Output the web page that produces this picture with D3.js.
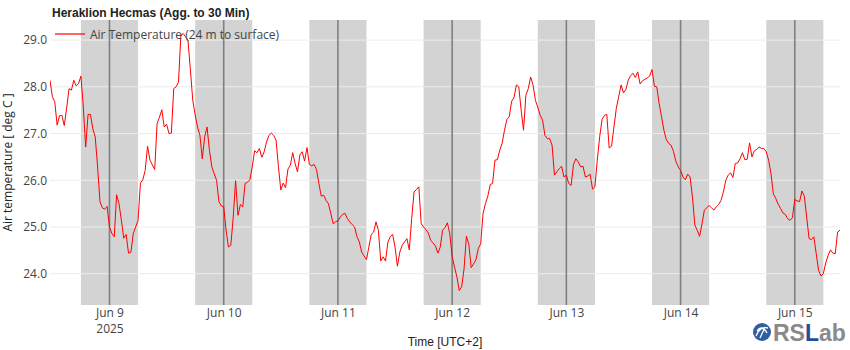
<!DOCTYPE html>
<html>
<head>
<meta charset="utf-8">
<script src="https://cdn.jsdelivr.net/npm/d3@7"></script>
<style>
  html, body { margin: 0; padding: 0; background: #fff; }
  svg { display: block; }
</style>
</head>
<body>
<svg id="chart" width="850" height="350"></svg>
<script>
// ---------------- DATA ----------------
const chartTitle = "Heraklion Hecmas (Agg. to 30 Min)";
const seriesName = "Air Temperature (24 m to surface)";
const yAxisTitle = "Air temperature [ deg C ]";
const xAxisTitle = "Time [UTC+2]";
const startTime = "2025-06-08T11:30";   // first sample (local UTC+2)
const stepMinutes = 30;                 // aggregation step
const yTicks = [24, 25, 26, 27, 28, 29];
const nightStartHour = 18;
const nightEndHour = 6;
const temps = [
  // Jun 8 11:30 - 23:30
  28.14, 27.79, 27.68, 27.18, 27.38, 27.39, 27.17, 27.55, 27.96, 27.93, 28.14, 28.02, 28.07,
  28.23, 27.57, 26.71, 27.41, 27.41, 27.10, 26.93, 26.29, 25.54, 25.41, 25.38, 25.44,
  // Jun 9
  25.00, 24.86, 24.79, 25.69, 25.50, 25.14, 24.76, 24.84, 24.44, 24.46, 24.86, 25.00,
  25.14, 25.94, 26.01, 26.21, 26.73, 26.43, 26.33, 26.23, 27.21, 27.35, 27.51, 27.14,
  27.20, 27.00, 27.01, 27.96, 28.00, 28.10, 29.10, 29.14, 29.07, 28.99, 28.36, 27.71,
  27.40, 27.14, 26.96, 26.46, 26.93, 27.14, 26.64, 26.29, 26.14, 26.00, 25.54, 25.45,
  // Jun 10
  25.43, 24.93, 24.57, 24.61, 25.21, 25.99, 25.25, 25.48, 25.43, 25.93, 25.96, 26.01,
  26.29, 26.63, 26.59, 26.68, 26.49, 26.61, 26.82, 26.96, 27.01, 26.96, 26.86, 26.29,
  25.79, 25.94, 25.84, 26.24, 26.32, 26.59, 26.36, 26.18, 26.54, 26.61, 26.41, 26.70,
  26.34, 26.31, 26.34, 26.23, 25.93, 25.66, 25.68, 25.57, 25.50, 25.29, 25.07, 25.11,
  // Jun 11
  25.13, 25.21, 25.27, 25.29, 25.18, 25.11, 25.05, 25.00, 24.79, 24.68, 24.46, 24.38,
  24.30, 24.57, 24.84, 24.89, 25.11, 24.93, 24.27, 24.36, 24.27, 24.68, 24.79, 24.84,
  24.57, 24.16, 24.46, 24.61, 24.68, 24.75, 24.51, 25.18, 25.75, 25.80, 25.86, 25.07,
  25.00, 24.94, 24.87, 24.71, 24.66, 24.59, 24.44, 24.57, 24.93, 24.99, 25.09, 24.86,
  // Jun 12
  24.37, 24.14, 23.93, 23.64, 23.72, 24.10, 24.80, 24.64, 24.13, 24.21, 24.30, 24.54,
  24.64, 25.29, 25.50, 25.66, 25.91, 25.93, 26.43, 26.44, 26.64, 26.79, 27.07, 27.30,
  27.36, 27.69, 27.77, 28.04, 28.00, 27.50, 27.07, 27.82, 27.96, 28.21, 28.04, 27.71,
  27.56, 27.39, 27.29, 26.96, 26.89, 26.89, 26.75, 26.11, 26.18, 26.25, 26.30, 26.07,
  // Jun 13
  26.11, 25.93, 25.89, 26.34, 26.46, 26.39, 26.29, 26.30, 26.07, 26.09, 26.13, 25.81,
  25.86, 26.43, 26.93, 27.30, 27.39, 27.41, 26.69, 26.73, 27.14, 27.54, 27.79, 28.04,
  27.87, 27.94, 28.14, 28.24, 28.29, 28.20, 28.32, 28.06, 28.13, 28.16, 28.19, 28.23,
  28.37, 28.01, 28.00, 27.64, 27.36, 27.07, 26.87, 26.79, 26.75, 26.62, 26.41, 26.29,
  // Jun 14
  26.21, 26.07, 26.01, 26.13, 26.07, 25.64, 25.04, 24.93, 24.80, 25.07, 25.36, 25.41,
  25.46, 25.41, 25.36, 25.43, 25.48, 25.57, 25.75, 26.00, 26.11, 26.16, 26.06, 26.36,
  26.37, 26.46, 26.59, 26.44, 26.45, 26.80, 26.50, 26.63, 26.66, 26.71, 26.68, 26.68,
  26.61, 26.43, 26.14, 25.71, 25.61, 25.49, 25.40, 25.30, 25.27, 25.18, 25.14, 25.20,
  // Jun 15 00:00 - 09:30
  25.59, 25.56, 25.54, 25.77, 25.66, 25.21, 24.75, 24.73, 24.79, 24.43, 24.07, 23.95,
  24.00, 24.23, 24.39, 24.51, 24.44, 24.43, 24.89, 24.93
];

// ---------------- SETUP ----------------
const W = 850, H = 350;
const margin = { left: 50, right: 10, top: 20, bottom: 45 };
const plotL = margin.left, plotR = W - margin.right;
const plotT = margin.top, plotB = H - margin.bottom;

const parse = d3.utcParse("%Y-%m-%dT%H:%M");
const t0 = parse(startTime);
const data = temps.map((v, i) => ({ t: new Date(t0.getTime() + i * stepMinutes * 60000), v }));

const x = d3.scaleUtc()
  .domain(d3.extent(data, d => d.t))
  .range([plotL, plotR]);
const y = d3.scaleLinear()
  .domain([23.33, 29.43])
  .range([plotB, plotT]);

const svg = d3.select("#chart");
svg.append("defs").append("clipPath").attr("id", "clip")
  .append("rect").attr("x", plotL).attr("y", plotT)
  .attr("width", plotR - plotL).attr("height", plotB - plotT);

const plot = svg.append("g").attr("clip-path", "url(#clip)");

// night bands
const [dStart, dEnd] = x.domain();
const days = d3.utcDay.range(d3.utcDay.floor(dStart), d3.utcDay.ceil(dEnd));
const nights = days.map(d => ({
  s: d3.utcHour.offset(d, nightStartHour),
  e: d3.utcHour.offset(d, 24 + nightEndHour)
})).filter(n => n.s < dEnd && n.e > dStart);

plot.selectAll("rect.night").data(nights).join("rect")
  .attr("class", "night")
  .attr("x", d => x(d.s))
  .attr("width", d => x(d.e) - x(d.s))
  .attr("y", plotT)
  .attr("height", plotB - plotT)
  .attr("fill", "#d3d3d3");

// horizontal grid
plot.selectAll("line.grid").data(yTicks).join("line")
  .attr("class", "grid")
  .attr("x1", plotL).attr("x2", plotR)
  .attr("y1", d => y(d)).attr("y2", d => y(d))
  .attr("stroke", "#ececec").attr("stroke-width", 1);

// midnight lines
const midnights = d3.utcDay.range(d3.utcDay.ceil(dStart), dEnd);
plot.selectAll("line.mid").data(midnights).join("line")
  .attr("class", "mid")
  .attr("x1", d => x(d)).attr("x2", d => x(d))
  .attr("y1", plotT).attr("y2", plotB)
  .attr("stroke", "#808080").attr("stroke-width", 1.6);

// series line
const line = d3.line().x(d => x(d.t)).y(d => y(d.v));
plot.append("path").datum(data)
  .attr("d", line)
  .attr("fill", "none")
  .attr("stroke", "#ff0000")
  .attr("stroke-width", 1)
  .attr("stroke-linejoin", "round");

// y axis tick labels
const yAxis = d3.axisLeft(y).tickValues(yTicks).tickFormat(d3.format(".1f")).tickSize(0).tickPadding(3);
const gy = svg.append("g").attr("transform", `translate(${plotL},0)`).call(yAxis);
gy.select(".domain").remove();
gy.selectAll("text")
  .attr("font-family", "'Open Sans', sans-serif")
  .attr("font-size", 12)
  .attr("fill", "#444");

// x axis tick labels
const fmtDay = d3.utcFormat("%b %-d");
const fmtYear = d3.utcFormat("%Y");
const xAxis = d3.axisBottom(x).tickValues(midnights).tickSize(0).tickPadding(0).tickFormat("");
const gx = svg.append("g").attr("transform", `translate(0,${plotB})`).call(xAxis);
gx.select(".domain").remove();
gx.selectAll(".tick").each(function (d, i) {
  const g = d3.select(this);
  g.select("text").remove();
  const tx = g.append("text")
    .attr("text-anchor", "middle")
    .attr("font-family", "'Open Sans', sans-serif")
    .attr("font-size", 12)
    .attr("fill", "#444");
  tx.append("tspan").attr("x", 0).attr("y", 11.5).text(fmtDay(d));
  if (i === 0) tx.append("tspan").attr("x", 0).attr("y", 28).text(fmtYear(d));
});

// axis titles
svg.append("text")
  .attr("x", (plotL + plotR) / 2).attr("y", 346)
  .attr("text-anchor", "middle")
  .attr("font-family", "'Liberation Sans', Arial, sans-serif")
  .attr("font-size", 12).attr("fill", "#222")
  .text(xAxisTitle);

svg.append("text")
  .attr("transform", `translate(12,${(plotT + plotB) / 2}) rotate(-90)`)
  .attr("text-anchor", "middle")
  .attr("font-family", "'Open Sans', sans-serif")
  .attr("font-size", 12).attr("fill", "#222")
  .text(yAxisTitle);

// title
svg.append("text")
  .attr("x", 52).attr("y", 17)
  .attr("font-family", "'Liberation Sans', Arial, sans-serif")
  .attr("font-size", 12).attr("font-weight", "bold").attr("fill", "#222")
  .text(chartTitle);

// legend
const lg = svg.append("g");
lg.append("line").attr("x1", 55).attr("x2", 85).attr("y1", 34).attr("y2", 34)
  .attr("stroke", "#ff0000").attr("stroke-width", 1.2);
lg.append("text").attr("x", 90).attr("y", 38.5)
  .attr("font-family", "'Open Sans', sans-serif")
  .attr("font-size", 12).attr("fill", "#444")
  .text(seriesName);

// logo
const logo = svg.append("g");
logo.append("circle").attr("cx", 762).attr("cy", 332).attr("r", 9).attr("fill", "#2f5f9f");
logo.append("path").attr("d", "M756,336 Q760,326 768,328 M757,331 Q762,324 767,333 M760,338 L765,327")
  .attr("stroke", "#fff").attr("stroke-width", 1.3).attr("fill", "none");
const lt = logo.append("text").attr("x", 773).attr("y", 341)
  .attr("font-family", "'Liberation Sans', Arial, sans-serif")
  .attr("font-size", 23).attr("font-weight", "bold");
lt.append("tspan").attr("fill", "#8a8a8a").text("RS");
lt.append("tspan").attr("fill", "#1f4f9c").text("L");
lt.append("tspan").attr("fill", "#8a8a8a").text("ab");
</script>
</body>
</html>
